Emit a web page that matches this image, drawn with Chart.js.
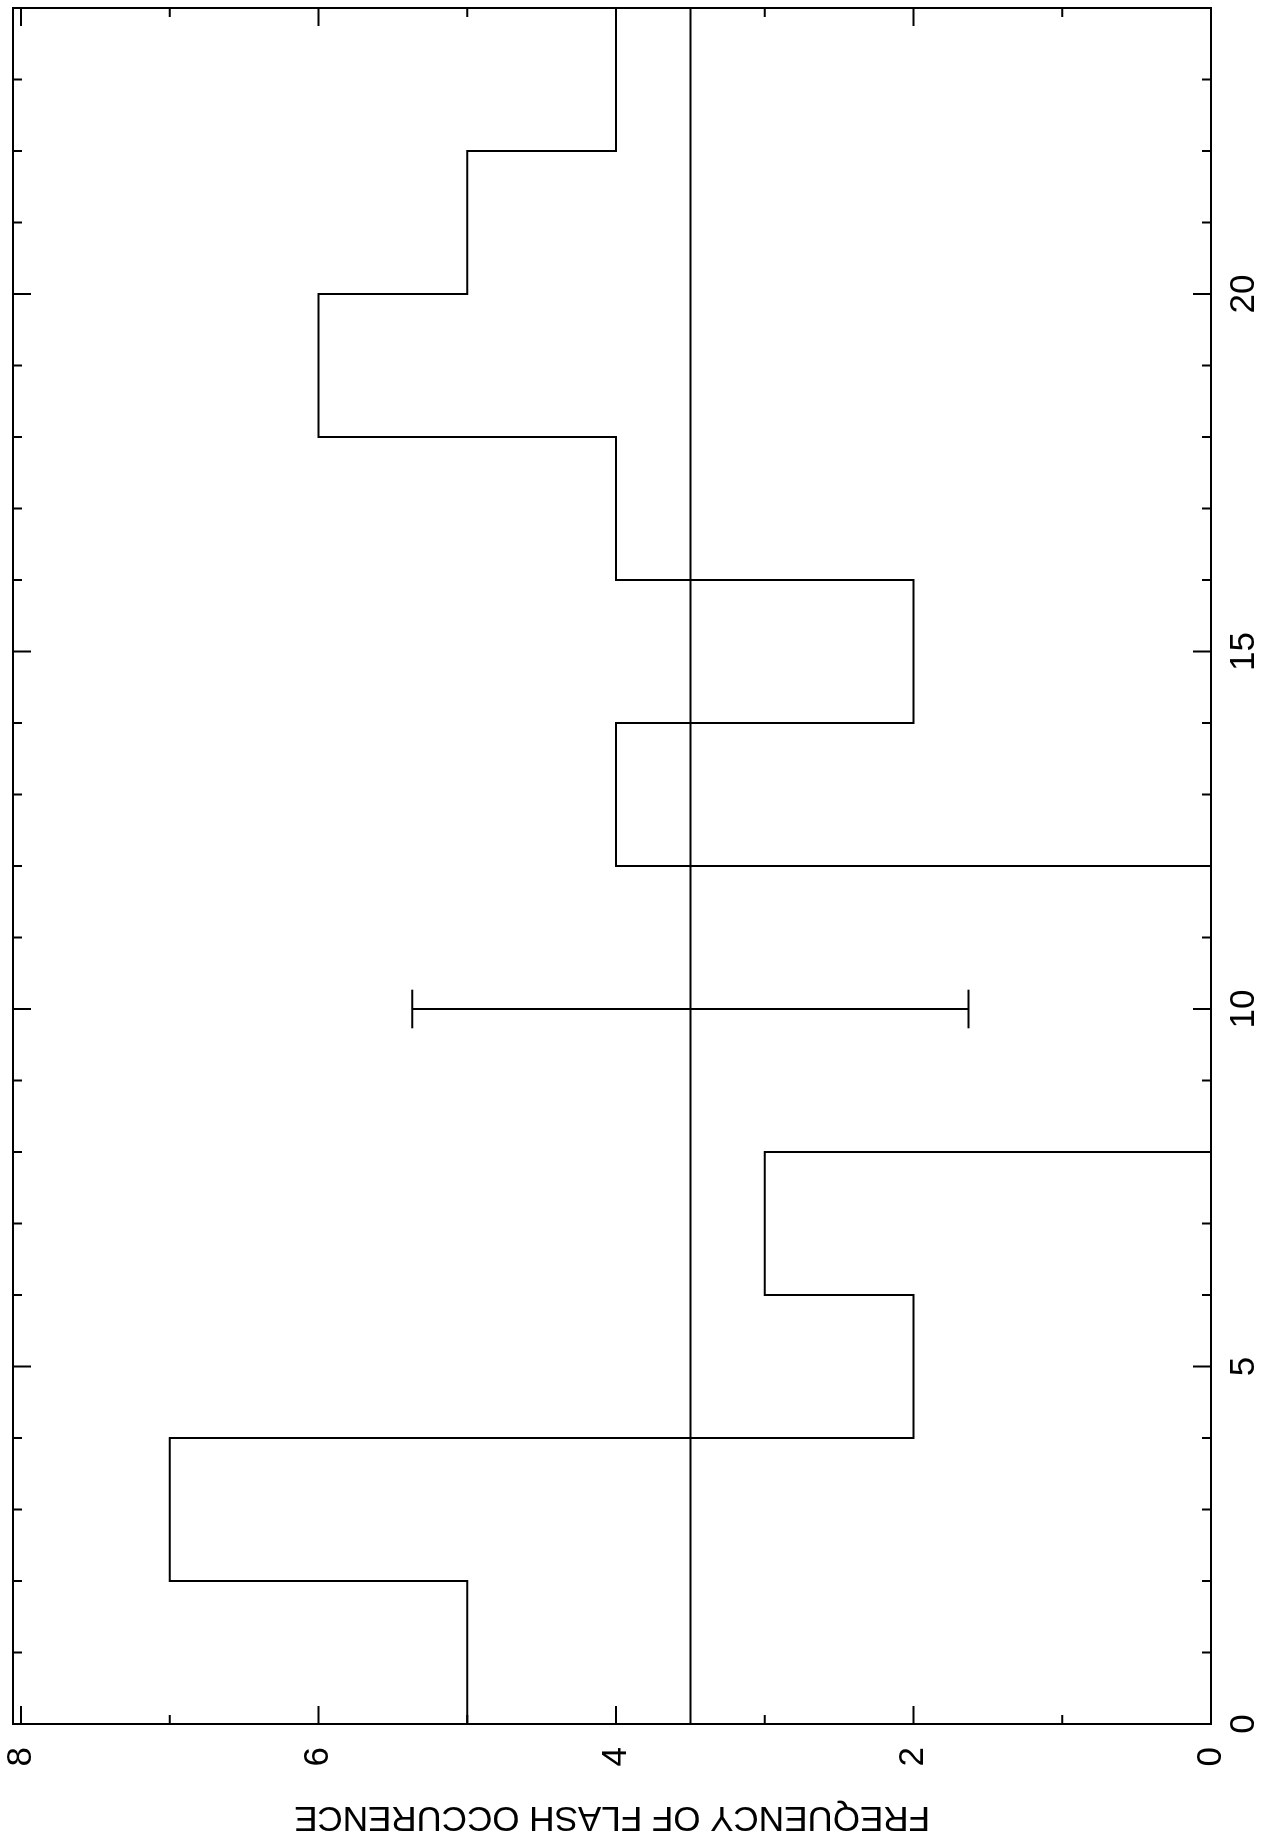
<!DOCTYPE html>
<html>
<head>
<meta charset="utf-8">
<script src="https://cdn.jsdelivr.net/npm/chart.js@4"></script>
<style>
  html, body { margin: 0; padding: 0; background: #fff; overflow: hidden; width: 1265px; height: 1848px; }
  /* landscape plot turned a quarter turn counter-clockwise onto the portrait page */
  #wrap { position: absolute; left: 0; top: 0; width: 1848px; height: 1265px;
          transform-origin: 0 0; transform: translate(0, 1848px) rotate(-90deg); background: #fff; }
  canvas { display: block; }
</style>
</head>
<body>
<div id="wrap"><canvas id="c" width="1848" height="1265"></canvas></div>
<script>
// Flash counts in two-hour bins
const binStarts = [0, 2, 4, 6, 8, 10, 12, 14, 16, 18, 20, 22];
const binWidth = 2;
const flashCounts = [5, 7, 2, 3, 0, 0, 4, 2, 4, 6, 5, 4];

// Mean level with its one-sigma range, shown at one position
const meanLevel = 3.5;
const errorBarX = 10;
const errorBarRange = [1.63, 5.37];

// Axis ranges and labelled ticks
const xRange = [0, 24];
const yRange = [0, 8.054];
const xTickLabels = [0, 5, 10, 15, 20];
const yTickLabels = [0, 2, 4, 6, 8];

const FONT = 'Liberation Sans, Arial, sans-serif';
const CAP = 0.27;

const histogram = binStarts.map((x, i) => ({ x, y: flashCounts[i] }));
histogram.push({ x: binStarts[binStarts.length - 1] + binWidth, y: flashCounts[flashCounts.length - 1] });

const lineStyle = { borderColor: '#000', borderWidth: 2, pointRadius: 0, fill: false, tension: 0 };

// Inward tick marks on all four sides plus the box frame
const frameTicks = {
  id: 'frameTicks',
  afterDraw(chart) {
    const { ctx, chartArea: a, scales: { x, y } } = chart;
    ctx.save();
    ctx.strokeStyle = '#000';
    ctx.lineWidth = 2;
    ctx.beginPath();
    for (let v = xRange[0]; v <= xRange[1]; v++) {
      const p = x.getPixelForValue(v);
      const len = v % 5 === 0 ? 18 : 9;
      ctx.moveTo(p, a.bottom); ctx.lineTo(p, a.bottom - len);
      ctx.moveTo(p, a.top); ctx.lineTo(p, a.top + len);
    }
    for (let v = 0; v <= Math.floor(yRange[1]); v++) {
      const p = y.getPixelForValue(v);
      const len = v % 2 === 0 ? 18 : 9;
      ctx.moveTo(a.left, p); ctx.lineTo(a.left + len, p);
      ctx.moveTo(a.right, p); ctx.lineTo(a.right - len, p);
    }
    ctx.stroke();
    ctx.strokeRect(a.left, a.top, a.right - a.left, a.bottom - a.top);
    ctx.restore();
  }
};

// Fixed axis sizes, with no extra room reserved for edge labels
function fixSize(prop, size) {
  return s => {
    s[prop] = size;
    s.paddingTop = 0; s.paddingBottom = 0; s.paddingLeft = 0; s.paddingRight = 0;
  };
}

new Chart(document.getElementById('c'), {
  type: 'line',
  data: {
    datasets: [
      { ...lineStyle, data: histogram, stepped: 'before' },
      { ...lineStyle, data: [{ x: xRange[0], y: meanLevel }, { x: xRange[1], y: meanLevel }] },
      { ...lineStyle, data: [{ x: errorBarX, y: errorBarRange[0] }, { x: errorBarX, y: errorBarRange[1] }] },
      { ...lineStyle, data: [{ x: errorBarX - CAP, y: errorBarRange[0] }, { x: errorBarX + CAP, y: errorBarRange[0] }] },
      { ...lineStyle, data: [{ x: errorBarX - CAP, y: errorBarRange[1] }, { x: errorBarX + CAP, y: errorBarRange[1] }] }
    ]
  },
  options: {
    responsive: false,
    animation: false,
    devicePixelRatio: 1,
    layout: { padding: { top: 13, right: 8, left: 0, bottom: 0 } },
    plugins: { legend: { display: false }, tooltip: { enabled: false } },
    scales: {
      x: {
        type: 'linear',
        min: xRange[0], max: xRange[1],
        grid: { display: false, drawTicks: false },
        border: { display: false },
        afterBuildTicks: s => { s.ticks = xTickLabels.map(v => ({ value: v })); },
        afterFit: fixSize('height', 54),
        ticks: { color: '#000', font: { family: FONT, size: 35 }, padding: 12, autoSkip: false, maxRotation: 0 }
      },
      y: {
        type: 'linear',
        min: yRange[0], max: yRange[1],
        grid: { display: false, drawTicks: false },
        border: { display: false },
        afterBuildTicks: s => { s.ticks = yTickLabels.map(v => ({ value: v })); },
        afterFit: fixSize('width', 124),
        ticks: { color: '#000', font: { family: FONT, size: 35 }, padding: 23 },
        title: {
          display: true,
          text: 'FREQUENCY OF FLASH OCCURENCE',
          color: '#000',
          font: { family: FONT, size: 35 },
          padding: { top: 10, bottom: 0 }
        }
      }
    }
  },
  plugins: [frameTicks]
});
</script>
</body>
</html>
